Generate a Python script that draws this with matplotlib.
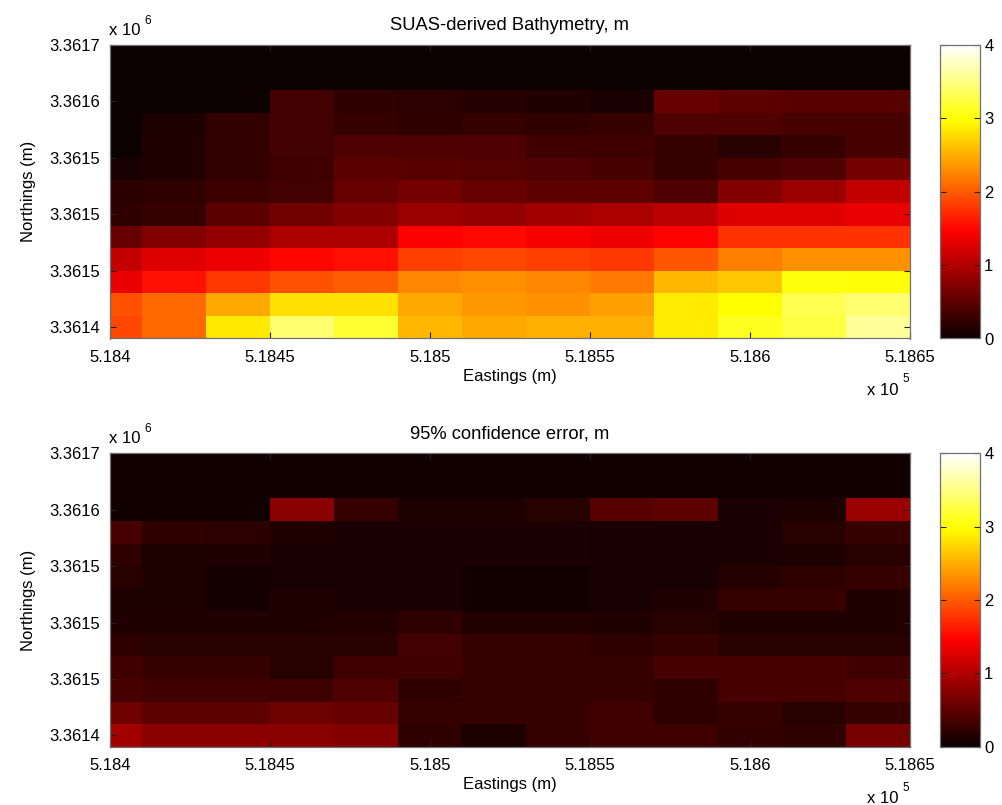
import numpy as np
import matplotlib
matplotlib.use('Agg')
import matplotlib.pyplot as plt

plt.rcParams['font.family'] = ['Liberation Sans', 'DejaVu Sans']

# ---------------- data ----------------
eastings = [518400, 518420, 518440, 518460, 518480, 518500, 518520,
            518540, 518560, 518580, 518600, 518620, 518640]
northings = [3361690, 3361670, 3361650, 3361630, 3361610, 3361590, 3361570,
             3361550, 3361530, 3361510, 3361490, 3361470, 3361450]

bathymetry = [
    [0.03, 0.03, 0.03, 0.03, 0.03, 0.03, 0.03, 0.03, 0.03, 0.03, 0.03, 0.03, 0.03],
    [0.03, 0.03, 0.03, 0.03, 0.03, 0.03, 0.03, 0.03, 0.03, 0.03, 0.03, 0.03, 0.03],
    [0.03, 0.03, 0.03, 0.33, 0.23, 0.21, 0.17, 0.14, 0.09, 0.55, 0.50, 0.46, 0.46],
    [0.03, 0.11, 0.24, 0.33, 0.27, 0.23, 0.25, 0.23, 0.27, 0.41, 0.41, 0.37, 0.37],
    [0.03, 0.14, 0.24, 0.33, 0.41, 0.41, 0.42, 0.32, 0.32, 0.27, 0.18, 0.27, 0.37],
    [0.09, 0.14, 0.24, 0.32, 0.49, 0.46, 0.45, 0.41, 0.37, 0.27, 0.37, 0.41, 0.64],
    [0.21, 0.23, 0.30, 0.33, 0.55, 0.64, 0.55, 0.50, 0.50, 0.41, 0.73, 0.87, 1.10],
    [0.23, 0.27, 0.49, 0.61, 0.73, 0.87, 0.82, 0.92, 0.96, 1.05, 1.28, 1.28, 1.33],
    [0.55, 0.73, 0.82, 0.97, 0.97, 1.46, 1.51, 1.42, 1.37, 1.47, 1.75, 1.75, 1.75],
    [1.10, 1.28, 1.37, 1.49, 1.56, 1.84, 1.89, 1.84, 1.79, 1.98, 2.22, 2.32, 2.32],
    [1.33, 1.56, 1.79, 1.94, 2.03, 2.27, 2.32, 2.27, 2.18, 2.56, 2.65, 3.02, 3.00],
    [1.94, 2.08, 2.46, 2.80, 2.80, 2.46, 2.37, 2.32, 2.42, 2.86, 2.97, 3.30, 3.43],
    [1.89, 2.08, 2.85, 3.43, 3.18, 2.56, 2.46, 2.51, 2.51, 2.86, 3.10, 3.24, 3.58],
]

error95 = [
    [0.04, 0.04, 0.04, 0.04, 0.04, 0.04, 0.04, 0.04, 0.04, 0.04, 0.04, 0.04, 0.04],
    [0.04, 0.04, 0.04, 0.04, 0.04, 0.04, 0.04, 0.04, 0.04, 0.04, 0.04, 0.04, 0.04],
    [0.04, 0.04, 0.04, 0.78, 0.27, 0.11, 0.11, 0.18, 0.46, 0.50, 0.10, 0.12, 0.87],
    [0.37, 0.23, 0.21, 0.14, 0.10, 0.10, 0.10, 0.10, 0.09, 0.09, 0.10, 0.18, 0.27],
    [0.23, 0.11, 0.14, 0.09, 0.10, 0.10, 0.10, 0.10, 0.09, 0.09, 0.10, 0.11, 0.18],
    [0.18, 0.11, 0.07, 0.09, 0.10, 0.10, 0.04, 0.04, 0.09, 0.09, 0.16, 0.23, 0.27],
    [0.11, 0.11, 0.07, 0.14, 0.10, 0.10, 0.04, 0.04, 0.09, 0.14, 0.27, 0.27, 0.14],
    [0.14, 0.14, 0.14, 0.14, 0.15, 0.23, 0.15, 0.15, 0.14, 0.18, 0.14, 0.14, 0.14],
    [0.23, 0.18, 0.18, 0.18, 0.18, 0.33, 0.27, 0.27, 0.23, 0.27, 0.18, 0.18, 0.18],
    [0.32, 0.27, 0.27, 0.18, 0.32, 0.32, 0.27, 0.27, 0.27, 0.37, 0.37, 0.37, 0.32],
    [0.37, 0.32, 0.32, 0.32, 0.41, 0.23, 0.27, 0.27, 0.27, 0.23, 0.37, 0.37, 0.41],
    [0.60, 0.50, 0.50, 0.60, 0.55, 0.27, 0.27, 0.27, 0.32, 0.23, 0.27, 0.18, 0.27],
    [0.92, 0.78, 0.78, 0.78, 0.72, 0.23, 0.11, 0.27, 0.32, 0.32, 0.24, 0.23, 0.65],
]

x_ticks = [518400, 518450, 518500, 518550, 518600, 518650]
x_tick_labels = ['5.184', '5.1845', '5.185', '5.1855', '5.186', '5.1865']
y_ticks = [3361700, 3361650, 3361600, 3361550, 3361500, 3361450]
y_tick_labels = ['3.3617', '3.3616', '3.3615', '3.3615', '3.3615', '3.3614']
cbar_ticks = [0, 1, 2, 3, 4]
titles = ['SUAS-derived Bathymetry, m', '95% confidence error, m']
x_label = 'Eastings (m)'
y_label = 'Northings (m)'

# ---------------- layout ----------------
W, H = 1003, 805
fig = plt.figure(figsize=(W / 100, H / 100), dpi=100)


def fx(px):
    return px / W


def fy(py):
    return 1 - py / H


spine_col = '#707070'
panels = [(bathymetry, titles[0], 45.0, 338.5), (error95, titles[1], 453.3, 746.7)]
for data, title, top, bot in panels:
    ax = fig.add_axes([fx(110), fy(bot), fx(910) - fx(110), fy(top) - fy(bot)])
    mesh = ax.pcolormesh(eastings, northings, np.array(data), cmap='hot',
                         vmin=0, vmax=4, shading='nearest')
    ax.set_xlim(518400, 518650)
    ax.set_ylim(3361440, 3361700)
    ax.set_xticks(x_ticks)
    ax.set_xticklabels(x_tick_labels)
    ax.set_yticks(y_ticks)
    ax.set_yticklabels(y_tick_labels)
    ax.tick_params(direction='in', length=4, width=0.8, color='#222222',
                   top=True, right=True, labelsize=12, pad=7)
    ax.tick_params(axis='x', pad=8)
    for s in ax.spines.values():
        s.set_color(spine_col)
        s.set_linewidth(0.9)
    ax.set_xlabel(x_label, fontsize=12, labelpad=3)
    ax.set_ylabel(y_label, fontsize=12, labelpad=10)
    ax.set_title(title, fontsize=13.2, pad=11)

    # multiplier labels
    fig.text(fx(109), fy(top - 10), 'x 10', fontsize=12, va='baseline', ha='left')
    fig.text(fx(144), fy(top - 21), '6', fontsize=8.5, va='baseline', ha='left')
    fig.text(fx(867), fy(bot + 56), 'x 10', fontsize=12, va='baseline', ha='left')
    fig.text(fx(902), fy(bot + 44), '5', fontsize=8.5, va='baseline', ha='left')

    cax = fig.add_axes([fx(940), fy(bot), fx(980) - fx(940), fy(top) - fy(bot)])
    cb = fig.colorbar(mesh, cax=cax, ticks=cbar_ticks)
    cb.outline.set_edgecolor(spine_col)
    cb.outline.set_linewidth(0.9)
    cax.tick_params(direction='in', length=4, width=0.8, color='#222222',
                    left=True, right=True, labelsize=12, pad=3)

fig.savefig('out.png', dpi=100)
